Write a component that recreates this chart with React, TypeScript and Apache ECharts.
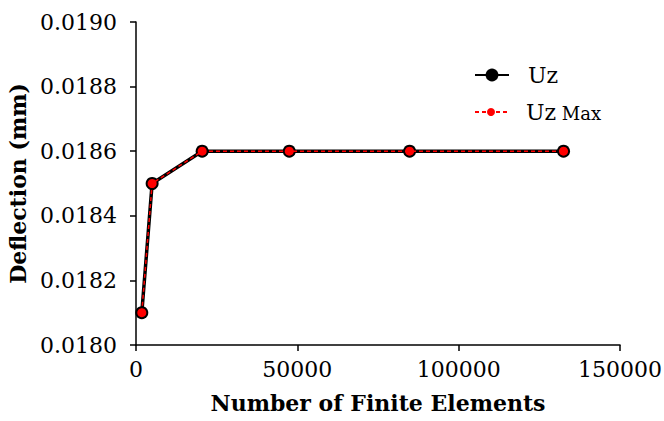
import React, { useEffect, useRef } from "react";
import * as echarts from "echarts";

const elements = [1800, 5000, 20500, 47500, 84800, 132500];
const uz = [0.0181, 0.0185, 0.0186, 0.0186, 0.0186, 0.0186];
const uzMax = [0.0181, 0.0185, 0.0186, 0.0186, 0.0186, 0.0186];
const seriesNames = ["Uz", "Uz Max"];

const FONT = "DejaVu Serif";

const legendText = {
  fontFamily: FONT,
  color: "#000",
  padding: [0, 0, 0, 14],
  rich: {
    a: { fontFamily: FONT, fontSize: 22, color: "#000" },
    b: { fontFamily: FONT, fontSize: 18, color: "#000", padding: [3, 0, 0, 0] },
  },
};

export default function App() {
  const ref = useRef<HTMLDivElement>(null);
  useEffect(() => {
    if (!ref.current) return;
    const chart = echarts.init(ref.current, null, { renderer: "svg" });
    chart.setOption({
      animation: false,
      backgroundColor: "#fff",
      grid: { left: 136, right: 44, top: 22, bottom: 76, outerBoundsMode: "none", containLabel: false },
      legend: [
        {
          orient: "vertical",
          left: 474,
          top: 64,
          itemWidth: 34,
          itemHeight: 16,
          padding: 0,
          data: [seriesNames[0]],
          formatter: () => "{a|Uz}",
          textStyle: legendText,
        },
        {
          orient: "vertical",
          left: 474,
          top: 101,
          itemWidth: 32,
          itemHeight: 10,
          padding: 0,
          data: [seriesNames[1]],
          formatter: () => "{a|Uz}{b| Max}",
          textStyle: legendText,
        },
      ],
      xAxis: {
        type: "value",
        min: 0,
        max: 150000,
        interval: 50000,
        name: "Number of Finite Elements",
        nameLocation: "middle",
        nameGap: 47,
        nameTextStyle: { fontFamily: FONT, fontWeight: "bold", fontSize: 22, color: "#000" },
        axisLine: { show: true, lineStyle: { color: "#000", width: 1.5 } },
        axisTick: { show: true, length: 6, lineStyle: { color: "#000", width: 1.5 } },
        axisLabel: {
          fontFamily: FONT,
          fontSize: 22,
          color: "#000",
          margin: 13,
          formatter: (v: number) => String(v),
        },
        splitLine: { show: false },
      },
      yAxis: {
        type: "value",
        min: 0.018,
        max: 0.019,
        interval: 0.0002,
        name: "Deflection (mm)",
        nameLocation: "middle",
        nameGap: 107,
        nameTextStyle: { fontFamily: FONT, fontWeight: "bold", fontSize: 22, color: "#000" },
        axisLine: { show: true, lineStyle: { color: "#000", width: 1.5 } },
        axisTick: { show: true, length: 6, lineStyle: { color: "#000", width: 1.5 } },
        axisLabel: {
          fontFamily: FONT,
          fontSize: 22,
          color: "#000",
          margin: 19,
          formatter: (v: number) => v.toFixed(4),
        },
        splitLine: { show: false },
      },
      series: [
        {
          name: seriesNames[0],
          type: "line",
          data: elements.map((x, i) => [x, uz[i]]),
          symbol: "circle",
          symbolSize: 13,
          lineStyle: { color: "#000", width: 3.5 },
          itemStyle: { color: "#000" },
          z: 2,
        },
        {
          name: seriesNames[1],
          type: "line",
          data: elements.map((x, i) => [x, uzMax[i]]),
          symbol: "circle",
          symbolSize: 9,
          lineStyle: { color: "#ff0000", width: 1.5, type: [4, 3] },
          itemStyle: { color: "#ff0000" },
          z: 3,
        },
      ],
    });
    return () => chart.dispose();
  }, []);
  return (
    <div
      ref={ref}
      style={{ position: "absolute", left: 0, top: 0, width: 664, height: 421 }}
    />
  );
}
